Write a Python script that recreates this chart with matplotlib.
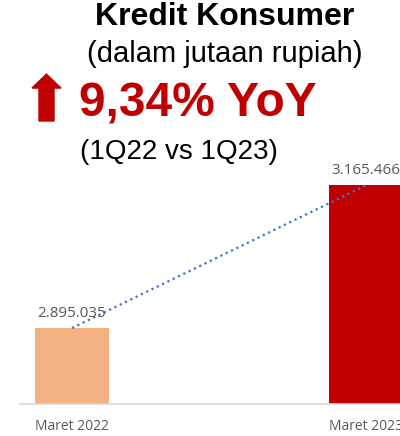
import matplotlib.pyplot as plt
from matplotlib.patches import Polygon

periods = ["Maret 2022", "Maret 2023"]
values = [2895035, 3165466]
labels = ["2.895.035", "3.165.466"]
colors = ["#F4B183", "#C00000"]

plt.rcParams["font.family"] = ["Liberation Sans", "DejaVu Sans"]

fig = plt.figure(figsize=(4.0, 4.36), dpi=100)

# headline texts
fig.text(0.5625, 0.960, "Kredit Konsumer", ha="center", va="center",
         fontsize=23, fontweight="bold", color="black")
fig.text(0.5625, 0.876, "(dalam jutaan rupiah)", ha="center", va="center",
         fontsize=21, color="black")
fig.text(0.197, 0.761, "9,34% YoY", ha="left", va="center",
         fontsize=34.5, fontweight="bold", color="#C00000")
fig.text(0.448, 0.651, "(1Q22 vs 1Q23)", ha="center", va="center",
         fontsize=20, color="black")

# red up arrow
arrow = Polygon([(0.0975, 0.7225), (0.0975, 0.798), (0.08, 0.798),
                 (0.116, 0.830), (0.1525, 0.798), (0.135, 0.798),
                 (0.135, 0.7225)], closed=True, transform=fig.transFigure,
                color="#C00000")
fig.patches.append(arrow)

ax = fig.add_axes([0.05, 0.0734, 0.995, 0.548])
x = range(len(periods))
ax.bar(x, values, width=0.25, color=colors)
ax.plot(x, values, linestyle=":", color="#4472C4", linewidth=1.6)

for i, v in enumerate(values):
    ax.text(i, v + 14000, labels[i], ha="center", va="bottom",
            fontsize=11, color="#595959", family=["Open Sans", "DejaVu Sans"])

ax.set_xlim(-0.177, 1.177)
ax.set_ylim(2751000, 3204000)
ax.set_xticks(list(x))
ax.set_xticklabels(periods, fontsize=10, color="#595959",
                   family=["Open Sans", "DejaVu Sans"])
ax.tick_params(axis="x", length=0, pad=11)
ax.set_yticks([])
for side in ["top", "right", "left"]:
    ax.spines[side].set_visible(False)
ax.spines["bottom"].set_color("#D9D9D9")
ax.spines["bottom"].set_linewidth(1.2)

plt.savefig("out.png", dpi=100)
plt.close()
